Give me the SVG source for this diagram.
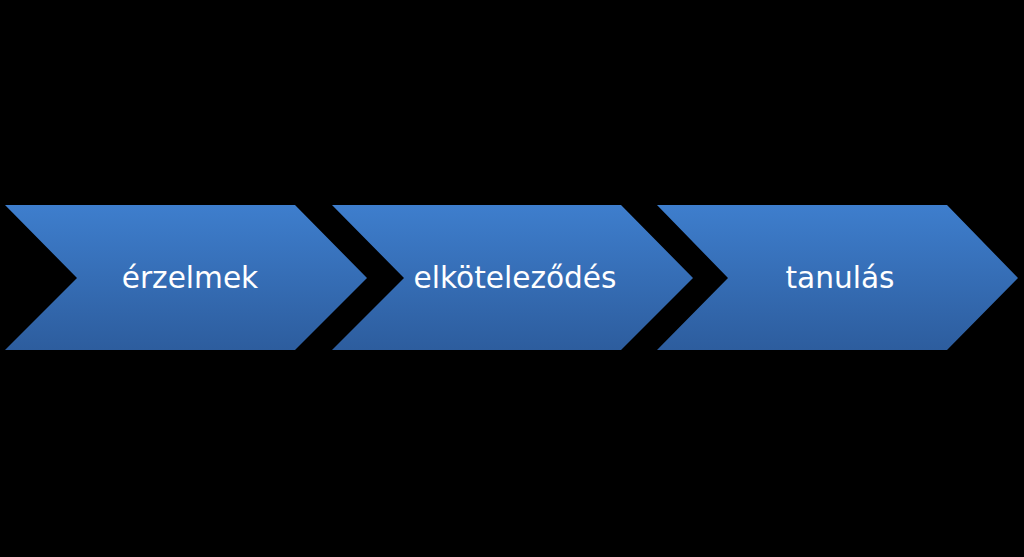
<svg xmlns="http://www.w3.org/2000/svg" width="1024" height="557" viewBox="0 0 1024 557">
<defs>
<linearGradient id="g" x1="0" y1="0" x2="0" y2="1">
<stop offset="0" stop-color="#3e7ecd"/>
<stop offset="1" stop-color="#2d5d9e"/>
</linearGradient>
<style>
.c{fill:url(#g)}
.t{font-family:"DejaVu Sans",Verdana,sans-serif;font-size:29.6px;fill:#ffffff;text-anchor:middle}
</style>
</defs>
<rect width="1024" height="557" fill="#000000"/>
<g id="n1"><polygon class="c" points="5,205 295,205 367,278 295,350 5,350 77,278"/><text class="t" x="190" y="288">érzelmek</text></g>
<g id="n2"><polygon class="c" points="332,205 621,205 693,278 621,350 332,350 404,278"/><text class="t" x="515" y="288">elköteleződés</text></g>
<g id="n3"><polygon class="c" points="657,205 947,205 1018,278 947,350 657,350 728,278"/><text class="t" x="840" y="288">tanulás</text></g>
<g id="connectors"></g>
</svg>
